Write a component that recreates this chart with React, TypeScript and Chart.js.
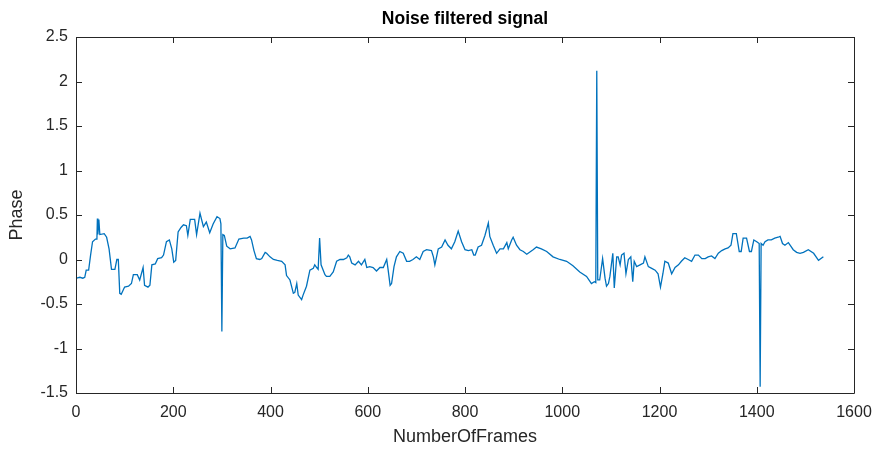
import React, { useEffect, useRef } from "react";
import { Chart, registerables } from "chart.js";

Chart.register(...registerables);

// Frame index of each sample
const frames: number[] = [
  1, 8, 14, 18, 21, 26, 30, 34, 40, 43, 44, 45, 47, 49, 58, 63, 68, 73, 80, 84,
  87, 90, 93, 100, 108, 114, 118, 126, 131, 138, 141, 148, 152, 156, 163, 168, 176, 180, 186, 192,
  197, 201, 205, 210, 216, 221, 227, 230, 235, 244, 248, 255, 262, 268, 275, 282, 290, 296, 298, 300,
  302, 305, 310, 317, 327, 335, 345, 352, 358, 361, 366, 371, 378, 382, 389, 392, 399, 406, 414, 423,
  430, 433, 440, 447, 450, 454, 457, 464, 467, 474, 481, 488, 491, 495, 498, 501, 504, 512, 515, 522,
  529, 536, 543, 550, 557, 560, 563, 567, 574, 581, 587, 594, 598, 604, 611, 618, 625, 632, 639, 642,
  646, 649, 654, 659, 666, 673, 680, 686, 693, 700, 707, 714, 721, 731, 735, 738, 745, 752, 759, 765,
  772, 779, 786, 793, 800, 807, 814, 818, 821, 827, 834, 841, 848, 851, 858, 865, 872, 879, 886, 889,
  896, 899, 906, 913, 920, 927, 940, 947, 957, 968, 981, 995, 1009, 1022, 1036, 1050, 1060, 1066, 1069, 1071,
  1073, 1077, 1083, 1088, 1091, 1095, 1098, 1104, 1107, 1112, 1115, 1119, 1122, 1127, 1131, 1136, 1141, 1145, 1148, 1153,
  1160, 1167, 1170, 1177, 1184, 1191, 1197, 1202, 1207, 1211, 1218, 1225, 1232, 1239, 1245, 1252, 1259, 1266, 1273, 1280,
  1287, 1294, 1300, 1307, 1314, 1321, 1328, 1335, 1341, 1347, 1351, 1358, 1364, 1368, 1372, 1379, 1385, 1389, 1394, 1400,
  1405, 1407, 1409, 1413, 1417, 1423, 1430, 1437, 1444, 1448, 1453, 1458, 1465, 1470, 1475, 1482, 1489, 1496, 1506, 1517,
  1527, 1537,
];

// Filtered phase value at each frame
const phase: number[] = [
  -0.21, -0.2, -0.21, -0.2, -0.12, -0.12, 0.05, 0.2, 0.23, 0.23, 0.46, 0.28, 0.45, 0.28, 0.29, 0.25, 0.12, -0.11, -0.11, 0,
  0, -0.38, -0.39, -0.31, -0.3, -0.27, -0.17, -0.17, -0.23, -0.09, -0.29, -0.31, -0.29, -0.06, -0.05, 0.01, 0.02, 0.05, 0.2, 0.22,
  0.12, -0.03, -0.01, 0.31, 0.36, 0.39, 0.38, 0.27, 0.45, 0.45, 0.28, 0.52, 0.37, 0.42, 0.3, 0.4, 0.48, 0.46, 0.4, -0.81,
  0.28, 0.27, 0.15, 0.12, 0.13, 0.23, 0.24, 0.24, 0.26, 0.22, 0.1, 0.01, 0, 0.01, 0.08, 0.07, 0.03, 0, -0.01, -0.02,
  -0.06, -0.18, -0.23, -0.38, -0.37, -0.27, -0.4, -0.45, -0.4, -0.3, -0.12, -0.1, -0.06, -0.09, -0.11, 0.24, -0.06, -0.17, -0.19, -0.19,
  -0.14, -0.02, 0, 0, 0.02, 0.05, 0.03, -0.04, -0.06, -0.02, -0.06, 0, -0.09, -0.08, -0.09, -0.13, -0.09, -0.09, 0, -0.12,
  -0.29, -0.27, -0.08, 0.03, 0.09, 0.07, -0.02, -0.02, 0, 0.03, 0, 0.09, 0.11, 0.1, 0.03, -0.06, 0.12, 0.14, 0.22, 0.16,
  0.12, 0.2, 0.32, 0.2, 0.11, 0.1, 0.11, 0.05, 0.05, 0.14, 0.16, 0.27, 0.41, 0.26, 0.16, 0.07, 0.12, 0.12, 0.19, 0.12,
  0.22, 0.25, 0.16, 0.11, 0.09, 0.06, 0.11, 0.14, 0.12, 0.09, 0.03, 0, -0.02, -0.07, -0.14, -0.19, -0.27, -0.25, -0.26, 2.12,
  -0.23, -0.23, 0.01, -0.21, -0.3, -0.27, -0.19, 0.07, -0.32, 0.03, 0.03, -0.06, 0.05, 0.07, -0.16, 0, 0.03, -0.25, -0.02, -0.08,
  -0.06, -0.04, 0.03, -0.08, -0.1, -0.12, -0.16, -0.31, -0.16, -0.02, -0.04, -0.16, -0.09, -0.06, -0.02, 0.02, 0, -0.02, 0.05, 0.05,
  0.01, 0.01, 0.03, 0.04, 0.01, 0.07, 0.1, 0.12, 0.13, 0.16, 0.29, 0.29, 0.09, 0.09, 0.24, 0.24, 0.09, 0.09, 0.22, 0.2,
  0.18, -1.43, 0.18, 0.16, 0.2, 0.22, 0.22, 0.24, 0.25, 0.26, 0.18, 0.16, 0.19, 0.15, 0.11, 0.08, 0.07, 0.08, 0.11, 0.07,
  -0.01, 0.03,
];

const xTickValues: number[] = [0, 200, 400, 600, 800, 1000, 1200, 1400, 1600];
const yTickValues: number[] = [-1.5, -1, -0.5, 0, 0.5, 1, 1.5, 2, 2.5];

const titleText = "Noise filtered signal";
const xLabel = "NumberOfFrames";
const yLabel = "Phase";

const FONT = '"Liberation Sans", Arial, Helvetica, sans-serif';
const AXIS_COLOR = "#262626";
const LINE_COLOR = "#0072BD";

// Box around the axes, inward tick marks on all four sides, and the labels
const frameAndLabels = {
  id: "frameAndLabels",
  afterDraw(chart: any) {
    const { ctx, chartArea, scales } = chart;
    const { left, right, top, bottom } = chartArea;
    const tick = 6;
    ctx.save();
    ctx.strokeStyle = AXIS_COLOR;
    ctx.lineWidth = 1;
    ctx.beginPath();
    ctx.rect(Math.round(left) + 0.5, Math.round(top) + 0.5, Math.round(right - left), Math.round(bottom - top));
    ctx.stroke();

    ctx.beginPath();
    for (const v of xTickValues) {
      const px = Math.round(scales.x.getPixelForValue(v)) + 0.5;
      ctx.moveTo(px, bottom);
      ctx.lineTo(px, bottom - tick);
      ctx.moveTo(px, top);
      ctx.lineTo(px, top + tick);
    }
    for (const v of yTickValues) {
      const py = Math.round(scales.y.getPixelForValue(v)) + 0.5;
      ctx.moveTo(left, py);
      ctx.lineTo(left + tick, py);
      ctx.moveTo(right, py);
      ctx.lineTo(right - tick, py);
    }
    ctx.stroke();

    const cx = (left + right) / 2;
    ctx.fillStyle = "#000000";
    ctx.textAlign = "center";
    ctx.textBaseline = "middle";
    ctx.font = `bold 17.5px ${FONT}`;
    ctx.fillText(titleText, cx, 19);

    ctx.fillStyle = AXIS_COLOR;
    ctx.font = `18px ${FONT}`;
    ctx.fillText(xLabel, cx, 437);

    ctx.translate(17, (top + bottom) / 2);
    ctx.rotate(-Math.PI / 2);
    ctx.fillText(yLabel, 0, 0);
    ctx.restore();
  },
};

export default function App() {
  const canvasRef = useRef<HTMLCanvasElement | null>(null);

  useEffect(() => {
    document.body.style.margin = "0";
    const canvas = canvasRef.current;
    if (!canvas) return;
    const points = frames.map((f, i) => ({ x: f, y: phase[i] }));
    const chart = new Chart(canvas, {
      type: "line",
      data: {
        datasets: [
          {
            data: points,
            borderColor: LINE_COLOR,
            borderWidth: 1.3,
            pointRadius: 0,
            tension: 0,
            fill: false,
          },
        ],
      },
      options: {
        animation: false,
        responsive: false,
        maintainAspectRatio: false,
        devicePixelRatio: 1,
        layout: { padding: { top: 37, right: 22, left: 0, bottom: 0 } },
        plugins: {
          legend: { display: false },
          title: { display: false },
          tooltip: { enabled: false },
        },
        scales: {
          x: {
            type: "linear",
            min: 0,
            max: 1600,
            afterBuildTicks: (scale: any) => {
              scale.ticks = xTickValues.map((v) => ({ value: v }));
            },
            afterFit: (scale: any) => {
              scale.height = 57;
              scale.paddingLeft = 0;
              scale.paddingRight = 0;
            },
            grid: { display: false, drawTicks: false },
            border: { display: false },
            ticks: {
              color: AXIS_COLOR,
              font: { family: FONT, size: 16 },
              padding: 10,
              maxRotation: 0,
              autoSkip: false,
              callback: (v: any) => String(v),
            },
          },
          y: {
            type: "linear",
            min: -1.5,
            max: 2.5,
            afterBuildTicks: (scale: any) => {
              scale.ticks = yTickValues.map((v) => ({ value: v }));
            },
            afterFit: (scale: any) => {
              scale.width = 76;
              scale.paddingTop = 0;
              scale.paddingBottom = 0;
            },
            grid: { display: false, drawTicks: false },
            border: { display: false },
            ticks: {
              color: AXIS_COLOR,
              font: { family: FONT, size: 16 },
              padding: 8,
              autoSkip: false,
              callback: (v: any) => String(v),
            },
          },
        },
      },
      plugins: [frameAndLabels],
    });
    return () => chart.destroy();
  }, []);

  return (
    <div style={{ position: "fixed", left: 0, top: 0, width: 876, height: 450, background: "#ffffff" }}>
      <canvas ref={canvasRef} width={876} height={450} style={{ width: 876, height: 450 }} />
    </div>
  );
}
